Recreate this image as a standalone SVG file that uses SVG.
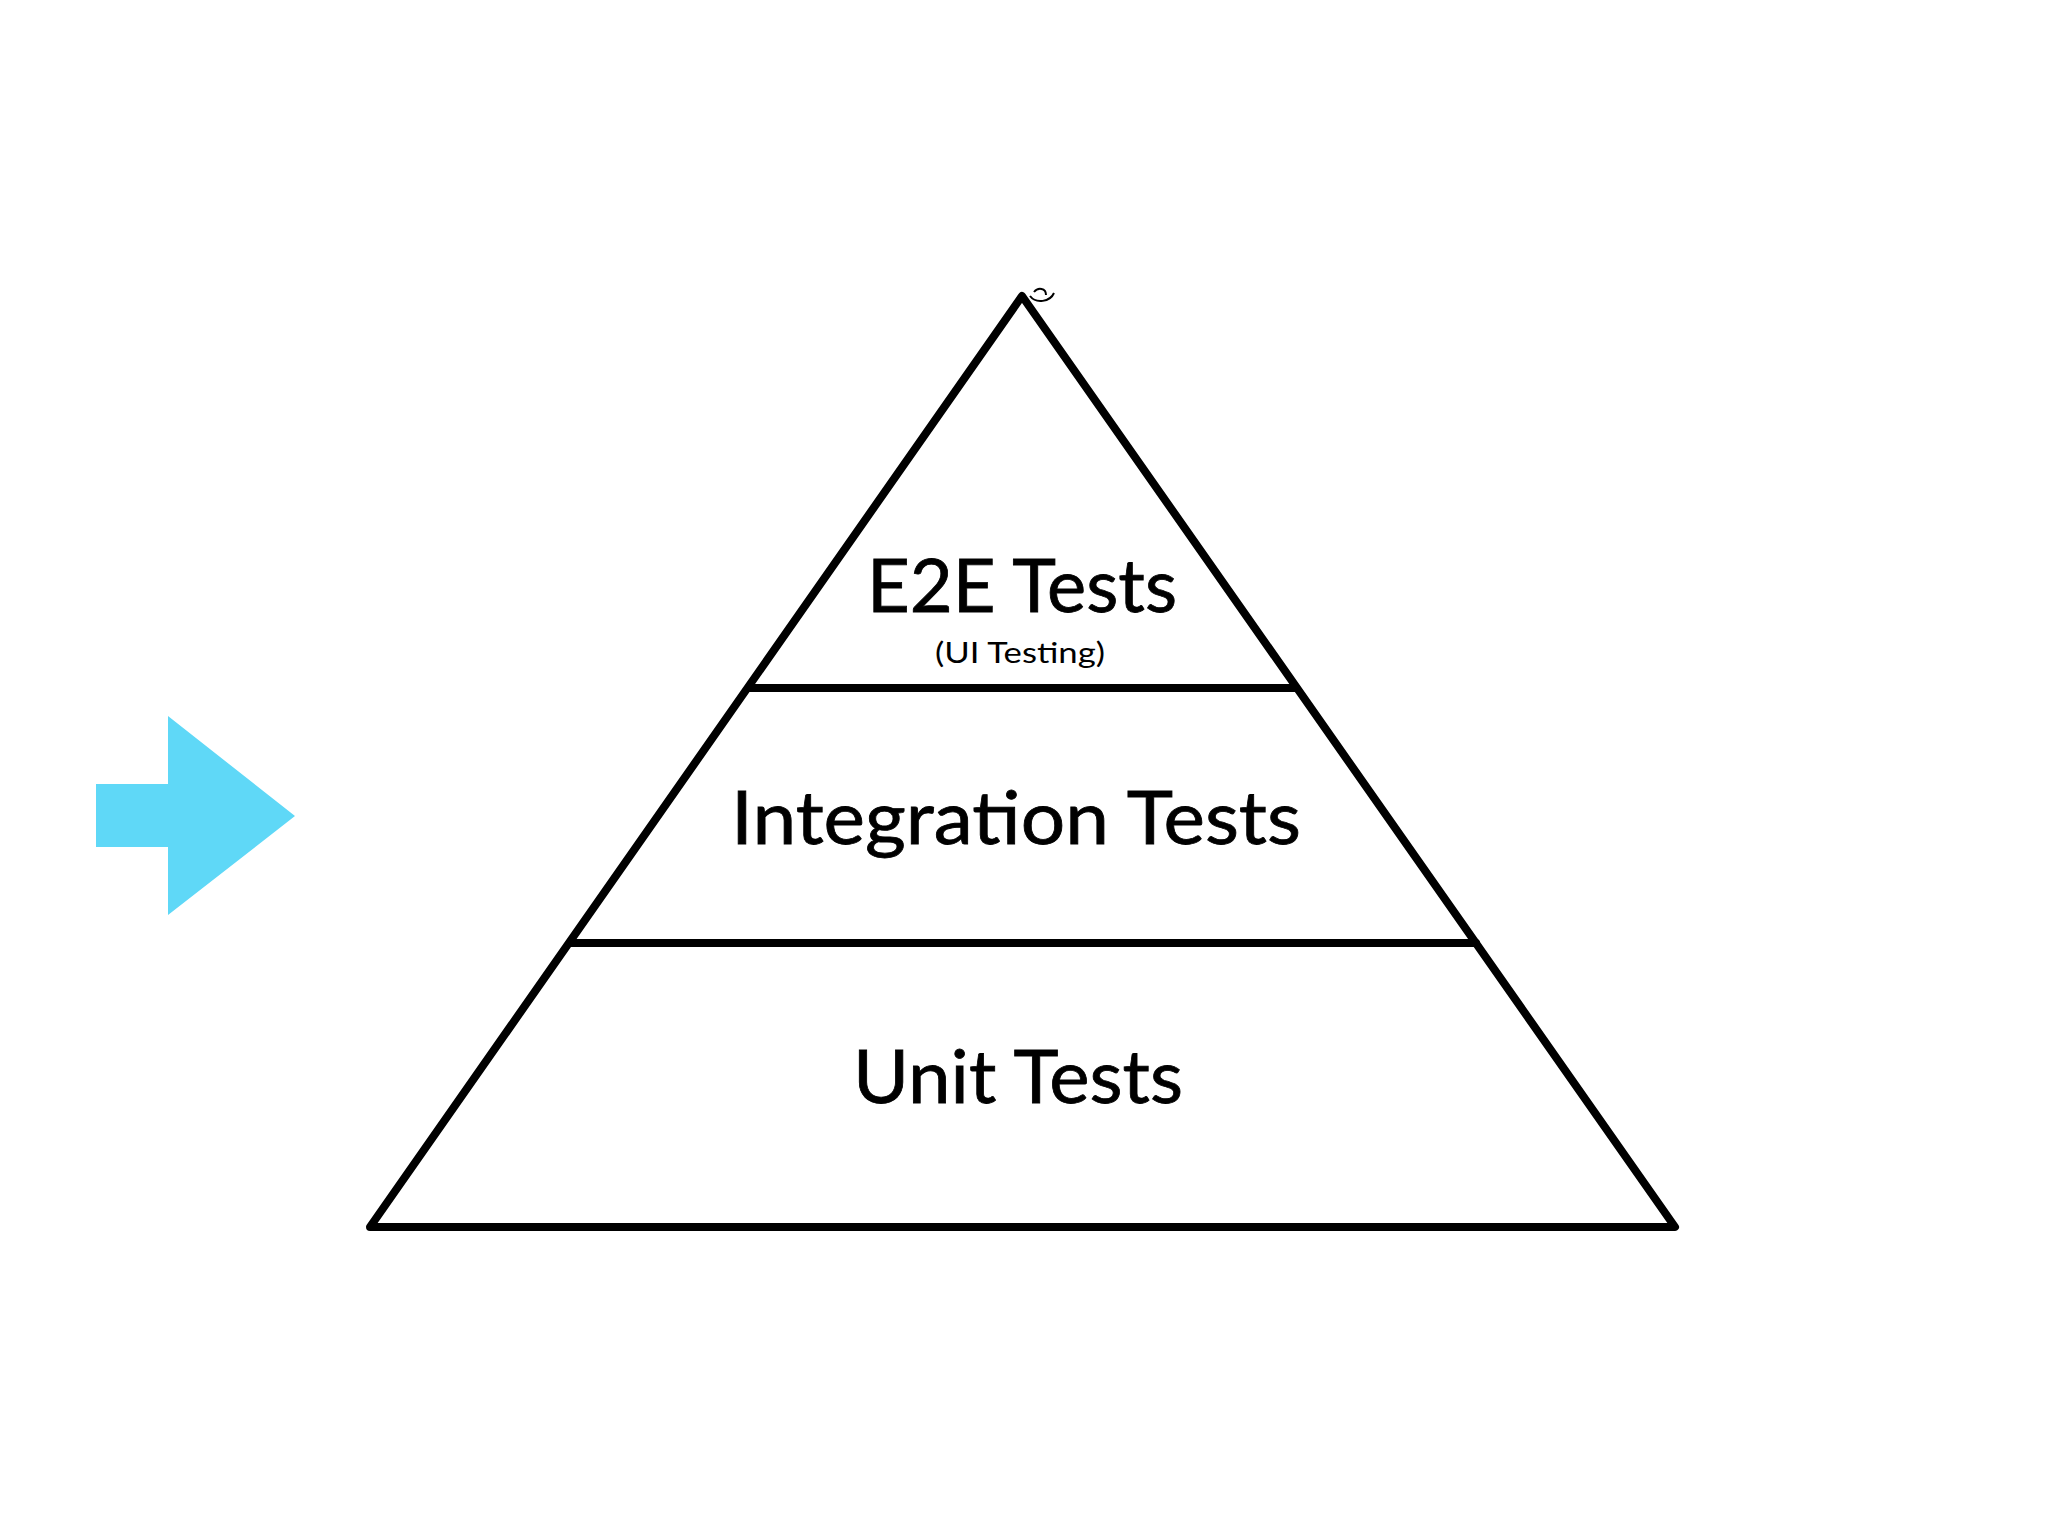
<svg xmlns="http://www.w3.org/2000/svg" width="2048" height="1536" viewBox="0 0 2048 1536">
<style>
.edge{fill:none;stroke:#000;stroke-width:8;stroke-linejoin:round;stroke-linecap:round}
.big{font-family:Lato,"Open Sans","Liberation Sans",sans-serif;font-size:74px;fill:#000;stroke:#000;stroke-width:0.8}
.small{font-family:Lato,"Open Sans","Liberation Sans",sans-serif;font-size:28px;fill:#000}
</style>
<rect width="2048" height="1536" fill="#fff"/>
<g id="arrow">
<polygon points="96,784 168,784 168,716 295,816 168,915 168,847 96,847" fill="#5fd8f7"/>
</g>
<g id="pyramid">
<polygon class="edge" points="1022,296 1675,1227 370,1227"/>
<path d="M1030,296 C1036,304 1050,302 1054,293 M1034,292 C1038,287 1046,288 1046,295" fill="none" stroke="#000" stroke-width="2"/>
</g>
<g id="connectors">
<line class="edge" x1="750" y1="688" x2="1296" y2="688"/>
<line class="edge" x1="571" y1="943" x2="1476" y2="943"/>
</g>
<g id="e2e">
<text class="big" x="867" y="612" textLength="310" lengthAdjust="spacingAndGlyphs">E2E Tests</text>
<text class="small" x="935" y="663" textLength="170" lengthAdjust="spacingAndGlyphs">(UI Testing)</text>
</g>
<g id="integration">
<text class="big" x="731" y="844" textLength="570" lengthAdjust="spacingAndGlyphs">Integration Tests</text>
</g>
<g id="unit">
<text class="big" x="853" y="1103" textLength="330" lengthAdjust="spacingAndGlyphs">Unit Tests</text>
</g>
</svg>
